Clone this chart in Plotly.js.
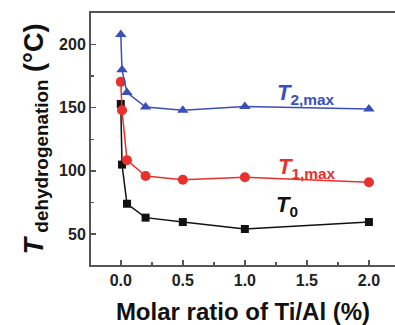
<!DOCTYPE html>
<html><head><meta charset="utf-8">
<script src="https://cdn.plot.ly/plotly-3.0.1.min.js"></script>
<style>body{margin:0;background:#fff}#c{width:395px;height:325px}</style>
</head><body><div id="c"></div>
<script>
const ratio = [0, 0.01, 0.05, 0.2, 0.5, 1.0, 2.0];
const T2max = [208, 180, 162, 150.5, 148, 151, 149];
const T1max = [170.5, 148, 108.5, 96, 93, 95, 91];
const T0 = [153, 105, 74, 63, 59.5, 54, 59.5];
const xTicks = [0, 0.5, 1.0, 1.5, 2.0];
const xTickText = ["0.0", "0.5", "1.0", "1.5", "2.0"];
const yTicks = [50, 100, 150, 200];

const fontFam = "Liberation Sans, Arial, sans-serif";
const traces = [
  {x: ratio, y: T0, mode: "lines+markers", line: {color: "#111", width: 1.5},
   marker: {symbol: "square", size: 8, color: "#111"}},
  {x: ratio, y: T1max, mode: "lines+markers", line: {color: "#e8302c", width: 1.5},
   marker: {symbol: "circle", size: 10, color: "#e8302c"}},
  {x: ratio, y: T2max, mode: "lines+markers", line: {color: "#3a4fb8", width: 1.5},
   marker: {symbol: "triangle-up", size: 10, color: "#3a4fb8"}}
];
const layout = {
  width: 395, height: 325,
  margin: {l: 91, r: 0, t: 13, b: 60},
  showlegend: false,
  paper_bgcolor: "#fff", plot_bgcolor: "#fff",
  font: {family: fontFam, color: "#222", size: 15, weight: "bold"},
  xaxis: {range: [-0.24, 2.21], tickvals: xTicks, ticktext: xTickText,
    showline: true, mirror: true, linecolor: "#555", linewidth: 2,
    ticks: "inside", ticklen: 5, tickwidth: 1.5, tickcolor: "#555",
    minor: {dtick: 0.25, tick0: 0, ticks: "inside", ticklen: 3, tickcolor: "#555"},
    showgrid: false, zeroline: false,
    tickfont: {size: 16, weight: "bold", color: "#222"},
    title: {text: "Molar ratio of Ti/Al (%)", font: {size: 24, weight: "bold", color: "#111"}, standoff: 16}},
  yaxis: {range: [25.5, 225], tickvals: yTicks,
    showline: true, mirror: false, linecolor: "#555", linewidth: 2,
    ticks: "inside", ticklen: 5, tickwidth: 1.5, tickcolor: "#555",
    minor: {dtick: 25, tick0: 0, ticks: "inside", ticklen: 3, tickcolor: "#555"},
    showgrid: false, zeroline: false,
    tickfont: {size: 16, weight: "bold", color: "#222"},
    title: {text: "<i>T</i><sub> dehydrogenation</sub> (°C)", font: {size: 27, weight: "bold", color: "#111"}, standoff: 8}},
  annotations: [
    {x: 1.49, y: 161, text: "<i>T</i><sub>2,max</sub>", showarrow: false,
     font: {size: 22, color: "#3a4fb8", weight: "bold"}},
    {x: 1.5, y: 102, text: "<i>T</i><sub>1,max</sub>", showarrow: false,
     font: {size: 22, color: "#e8302c", weight: "bold"}},
    {x: 1.34, y: 72, text: "<i>T</i><sub>0</sub>", showarrow: false,
     font: {size: 22, color: "#111", weight: "bold"}}
  ]
};
Plotly.newPlot("c", traces, layout, {displayModeBar: false, staticPlot: true});
</script></body></html>
